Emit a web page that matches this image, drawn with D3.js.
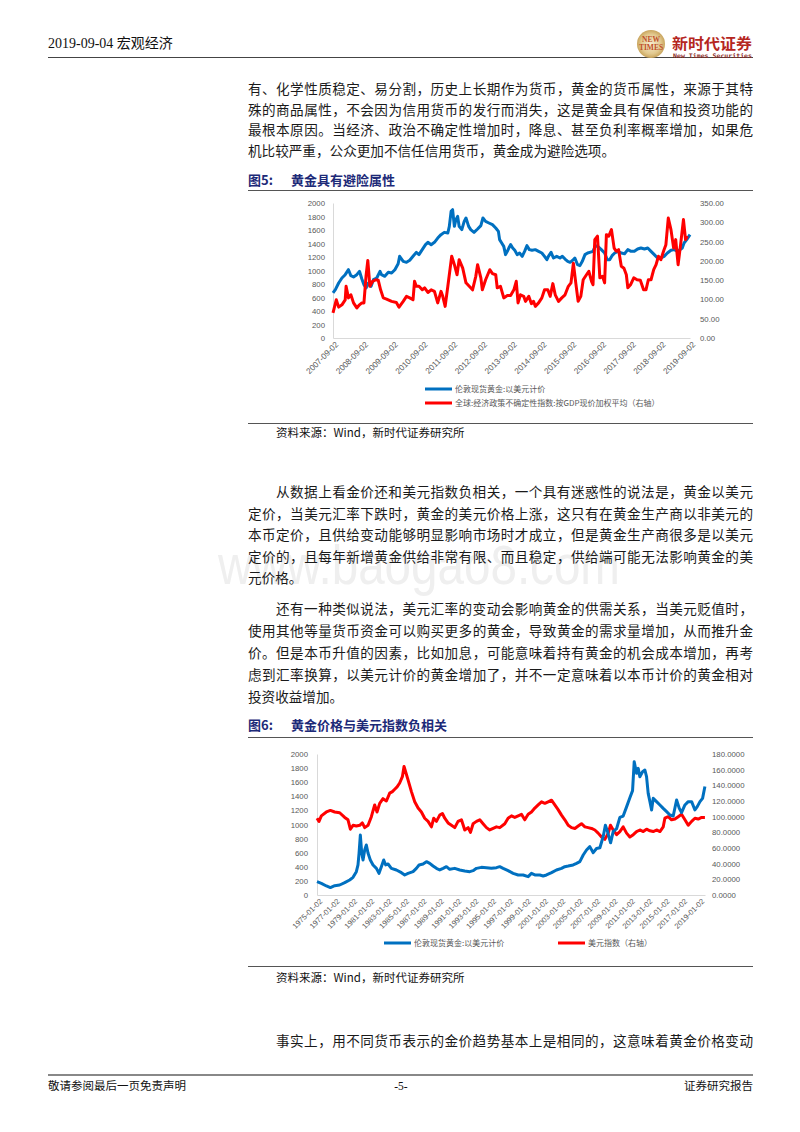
<!DOCTYPE html>
<html><head><meta charset="utf-8">
<script src="https://cdn.jsdelivr.net/npm/d3@7"></script>
<style>
html,body{margin:0;padding:0;background:#fff;}
svg{display:block;}
</style></head>
<body>
<svg id="page" width="800" height="1132"></svg>
<script>
// ---------------- DATA ----------------
// Figure 5: gold (left axis) and global EPU (right axis), decimal years
const fig5GoldYears = [2007.67,2007.75,2007.86,2007.97,2008.08,2008.19,2008.27,2008.36,2008.47,2008.56,2008.64,2008.71,2008.78,2008.86,2008.95,2009.03,2009.14,2009.25,2009.30,2009.41,2009.53,2009.64,2009.75,2009.86,2009.91,2010.03,2010.14,2010.25,2010.36,2010.47,2010.56,2010.67,2010.78,2010.86,2010.97,2011.08,2011.19,2011.30,2011.41,2011.53,2011.58,2011.64,2011.69,2011.75,2011.80,2011.86,2011.91,2012.00,2012.08,2012.14,2012.23,2012.30,2012.41,2012.53,2012.64,2012.71,2012.80,2012.91,2013.03,2013.14,2013.23,2013.27,2013.34,2013.41,2013.47,2013.53,2013.58,2013.64,2013.71,2013.78,2013.86,2013.94,2014.03,2014.11,2014.19,2014.27,2014.36,2014.47,2014.58,2014.69,2014.78,2014.86,2014.91,2015.00,2015.08,2015.19,2015.30,2015.38,2015.47,2015.56,2015.64,2015.75,2015.80,2015.89,2015.97,2016.05,2016.14,2016.23,2016.30,2016.41,2016.49,2016.58,2016.69,2016.80,2016.89,2016.97,2017.05,2017.14,2017.25,2017.36,2017.47,2017.58,2017.69,2017.80,2017.91,2018.02,2018.14,2018.25,2018.36,2018.47,2018.58,2018.69,2018.80,2018.91,2019.03,2019.14,2019.25,2019.34,2019.41,2019.47,2019.56,2019.67];
const fig5Gold = [667,716,815,889,938,1012,923,904,938,988,874,790,741,815,765,864,889,988,938,914,973,963,1012,1101,1210,1136,1121,1151,1210,1269,1235,1309,1383,1417,1383,1417,1481,1531,1565,1556,1654,1877,1901,1654,1753,1802,1654,1605,1728,1778,1654,1605,1565,1615,1664,1778,1728,1704,1679,1630,1580,1457,1407,1358,1235,1284,1333,1383,1333,1299,1235,1259,1210,1284,1368,1309,1299,1309,1284,1259,1210,1160,1210,1269,1185,1210,1185,1210,1170,1136,1121,1160,1185,1086,1072,1136,1235,1259,1269,1284,1368,1353,1309,1259,1160,1160,1220,1259,1284,1259,1249,1309,1284,1284,1318,1333,1318,1333,1284,1235,1185,1185,1210,1259,1299,1309,1284,1309,1333,1407,1457,1531];
const fig5EpuYears = [2007.67,2007.78,2007.86,2007.97,2008.08,2008.11,2008.19,2008.27,2008.36,2008.47,2008.56,2008.64,2008.71,2008.78,2008.84,2008.91,2009.00,2009.11,2009.19,2009.27,2009.36,2009.47,2009.64,2009.80,2009.89,2010.03,2010.14,2010.25,2010.36,2010.41,2010.47,2010.56,2010.67,2010.75,2010.86,2010.97,2011.08,2011.19,2011.30,2011.36,2011.44,2011.53,2011.66,2011.75,2011.84,2011.91,2012.03,2012.14,2012.25,2012.36,2012.47,2012.53,2012.64,2012.69,2012.80,2012.94,2013.03,2013.14,2013.19,2013.30,2013.41,2013.53,2013.64,2013.75,2013.83,2013.89,2013.97,2014.08,2014.14,2014.25,2014.34,2014.41,2014.47,2014.58,2014.69,2014.78,2014.89,2014.97,2015.06,2015.14,2015.25,2015.36,2015.47,2015.58,2015.67,2015.75,2015.83,2015.91,2016.00,2016.08,2016.19,2016.27,2016.36,2016.41,2016.47,2016.56,2016.64,2016.73,2016.80,2016.86,2016.94,2017.03,2017.12,2017.19,2017.27,2017.36,2017.45,2017.53,2017.58,2017.67,2017.78,2017.89,2018.00,2018.11,2018.19,2018.27,2018.36,2018.45,2018.53,2018.61,2018.69,2018.78,2018.86,2018.94,2019.03,2019.12,2019.19,2019.27,2019.36,2019.45,2019.52,2019.58];
const fig5Epu = [65,99,80,86,99,134,104,112,91,78,86,91,91,160,201,134,147,151,150,125,104,101,95,92,80,95,108,104,99,147,134,134,125,130,118,125,121,91,121,108,82,134,212,190,164,203,181,143,134,125,160,190,156,125,151,177,167,164,130,134,104,110,110,125,147,91,112,108,95,108,89,95,82,91,104,125,125,108,141,112,95,104,112,134,143,194,143,95,108,151,164,173,147,138,255,264,156,160,143,268,264,281,233,225,229,186,181,164,130,138,156,151,150,125,125,151,151,177,190,212,203,225,242,311,281,233,255,190,246,307,255,264];
const fig5LeftTicks = [0,200,400,600,800,1000,1200,1400,1600,1800,2000];
const fig5RightTicks = [0,50,100,150,200,250,300,350];
const fig5XTickYears = [2007.67,2008.67,2009.67,2010.67,2011.67,2012.67,2013.67,2014.67,2015.67,2016.67,2017.67,2018.67,2019.67];
const fig5XLabels = ["2007-09-02","2008-09-02","2009-09-02","2010-09-02","2011-09-02","2012-09-02","2013-09-02","2014-09-02","2015-09-02","2016-09-02","2017-09-02","2018-09-02","2019-09-02"];
const fig5Series = ["伦敦现货黄金:以美元计价","全球:经济政策不确定性指数:按GDP现价加权平均（右轴）"];

// Figure 6: gold (left axis) and US dollar index (right axis)
const fig6GoldYears = [1975.00,1975.50,1976.08,1976.54,1977.04,1977.61,1978.19,1978.76,1979.15,1979.53,1979.72,1979.84,1979.99,1980.15,1980.30,1980.49,1980.68,1980.88,1981.14,1981.45,1981.84,1982.14,1982.41,1982.68,1982.91,1983.18,1983.56,1984.14,1984.72,1985.10,1985.48,1986.06,1986.44,1986.75,1987.21,1987.60,1987.98,1988.36,1988.75,1989.13,1989.52,1989.90,1990.28,1990.86,1991.44,1992.01,1992.59,1992.97,1993.36,1993.93,1994.51,1995.08,1995.66,1996.04,1996.43,1997.00,1997.58,1998.16,1998.73,1999.31,1999.69,2000.08,2000.65,2001.04,2001.42,2002.00,2002.57,2003.15,2003.53,2003.92,2004.49,2004.88,2005.26,2005.65,2006.03,2006.41,2006.80,2007.18,2007.57,2007.95,2008.20,2008.45,2008.80,2009.10,2009.49,2009.87,2010.25,2010.64,2011.02,2011.33,2011.52,2011.79,2011.98,2012.17,2012.48,2012.75,2012.94,2013.13,2013.33,2013.52,2013.71,2014.09,2014.48,2014.86,2015.25,2015.63,2016.01,2016.40,2016.71,2016.97,2017.36,2017.74,2018.13,2018.51,2018.78,2019.09,2019.39,2019.66];
const fig6Gold = [189,165,128,105,132,142,175,213,251,331,426,591,851,591,496,638,709,591,496,426,378,307,402,496,426,440,378,355,317,284,307,331,378,426,440,473,449,411,378,355,378,402,364,378,355,340,331,345,378,392,388,378,388,402,378,345,307,284,284,260,307,284,284,270,284,317,355,378,402,411,426,449,473,567,638,686,600,660,670,830,990,900,740,898,940,1100,1120,1250,1380,1480,1891,1726,1797,1678,1749,1773,1678,1442,1324,1206,1371,1324,1277,1229,1182,1135,1120,1348,1229,1170,1277,1324,1324,1206,1253,1324,1371,1540];
const fig6UsdYears = [1975.00,1975.23,1975.50,1976.08,1976.54,1977.04,1977.61,1978.19,1978.57,1978.84,1979.15,1979.53,1979.92,1980.22,1980.49,1980.88,1981.26,1981.64,1981.91,1982.22,1982.60,1982.99,1983.37,1983.68,1983.95,1984.22,1984.52,1984.83,1985.02,1985.21,1985.48,1985.87,1986.25,1986.64,1987.02,1987.40,1987.79,1988.17,1988.44,1988.75,1989.13,1989.44,1989.71,1990.09,1990.48,1990.86,1991.24,1991.63,1992.01,1992.40,1992.67,1992.97,1993.36,1993.74,1994.12,1994.51,1994.89,1995.28,1995.66,1996.04,1996.62,1997.00,1997.39,1997.77,1998.16,1998.54,1998.92,1999.31,1999.69,2000.08,2000.46,2000.85,2001.23,2001.61,2002.00,2002.38,2002.76,2003.15,2003.53,2003.92,2004.30,2004.69,2005.07,2005.45,2005.84,2006.22,2006.61,2006.99,2007.37,2007.76,2008.14,2008.53,2008.79,2009.10,2009.49,2009.87,2010.25,2010.64,2011.02,2011.41,2011.79,2012.17,2012.56,2012.94,2013.33,2013.71,2014.09,2014.48,2014.86,2015.05,2015.44,2015.82,2016.21,2016.59,2016.97,2017.36,2017.74,2018.13,2018.51,2018.89,2019.28,2019.66];
const fig6Usd = [98,94,101,106,108,106,105,99,96,84,89,88,89,92,86,89,100,115,106,117,123,120,130,132,135,138,143,151,164,157,147,132,119,111,106,98,94,87,98,94,102,104,98,92,89,86,94,96,83,86,80,91,94,96,91,86,83,85,87,86,91,98,101,99,101,103,96,103,106,111,115,119,117,119,121,115,109,102,96,89,86,85,88,91,87,86,85,83,79,74,71,79,89,83,77,81,87,79,74,77,81,83,81,84,82,81,83,81,87,98,100,96,97,100,103,96,89,94,98,97,99,99];
const fig6LeftTicks = [0,200,400,600,800,1000,1200,1400,1600,1800,2000];
const fig6RightTicks = [0,20,40,60,80,100,120,140,160,180];
const fig6XTickYears = d3.range(1975, 2020, 2);
const fig6XLabels = ["1975-01-02","1977-01-02","1979-01-02","1981-01-02","1983-01-02","1985-01-02","1987-01-02","1989-01-02","1991-01-02","1993-01-02","1995-01-02","1997-01-02","1999-01-02","2001-01-02","2003-01-02","2005-01-02","2007-01-02","2009-01-02","2011-01-02","2013-01-02","2015-01-02","2017-01-02","2019-01-02"];
const fig6Series = ["伦敦现货黄金:以美元计价","美元指数（右轴）"];

// Page text
const para1 = ["有、化学性质稳定、易分割，历史上长期作为货币，黄金的货币属性，来源于其特","殊的商品属性，不会因为信用货币的发行而消失，这是黄金具有保值和投资功能的","最根本原因。当经济、政治不确定性增加时，降息、甚至负利率概率增加，如果危","机比较严重，公众更加不信任信用货币，黄金成为避险选项。"];
const para2 = ["从数据上看金价还和美元指数负相关，一个具有迷惑性的说法是，黄金以美元","定价，当美元汇率下跌时，黄金的美元价格上涨，这只有在黄金生产商以非美元的","本币定价，且供给变动能够明显影响市场时才成立，但是黄金生产商很多是以美元","定价的，且每年新增黄金供给非常有限、而且稳定，供给端可能无法影响黄金的美","元价格。"];
const para3 = ["还有一种类似说法，美元汇率的变动会影响黄金的供需关系，当美元贬值时，","使用其他等量货币资金可以购买更多的黄金，导致黄金的需求量增加，从而推升金","价。但是本币升值的因素，比如加息，可能意味着持有黄金的机会成本增加，再考","虑到汇率换算，以美元计价的黄金增加了，并不一定意味着以本币计价的黄金相对","投资收益增加。"];
const para4 = ["事实上，用不同货币表示的金价趋势基本上是相同的，这意味着黄金价格变动"];

// ---------------- DRAW ----------------
const svg = d3.select("#page");
svg.append("rect").attr("width",800).attr("height",1132).attr("fill","#fff");
const CJK = "'Noto Sans CJK SC','Noto Sans',sans-serif";
const SERIF = "'Liberation Serif','Noto Sans CJK SC',serif";
const NUM = "'Liberation Sans','DejaVu Sans',sans-serif";

// watermark (behind text)
svg.append("text").attr("x",218).attr("y",584).attr("font-family",NUM).attr("font-size",56)
  .attr("fill","#efefef").attr("textLength",402).attr("lengthAdjust","spacingAndGlyphs").text("www.baogao8.com");

// header
svg.append("text").attr("x",48).attr("y",48).attr("font-family",SERIF).attr("font-size",14).attr("fill","#111").text("2019-09-04 宏观经济");
svg.append("line").attr("x1",48).attr("x2",753).attr("y1",57.5).attr("y2",57.5).attr("stroke","#444").attr("stroke-width",1);
// logo
const defs = svg.append("defs");
const rg = defs.append("radialGradient").attr("id","logoGrad");
rg.append("stop").attr("offset","0%").attr("stop-color","#f6ecd0");
rg.append("stop").attr("offset","70%").attr("stop-color","#e2c98f");
rg.append("stop").attr("offset","100%").attr("stop-color","#c9a55e");
svg.append("circle").attr("cx",651).attr("cy",44).attr("r",14).attr("fill","url(#logoGrad)");
svg.append("text").attr("x",651).attr("y",42).attr("text-anchor","middle").attr("font-family",SERIF).attr("font-size",7.5).attr("font-weight","bold").attr("fill","#c0502a").text("NEW");
svg.append("text").attr("x",651).attr("y",50).attr("text-anchor","middle").attr("font-family",SERIF).attr("font-size",7.5).attr("font-weight","bold").attr("fill","#c0502a").text("TIMES");
svg.append("text").attr("x",672).attr("y",49).attr("font-family",CJK).attr("font-size",15).attr("font-weight","bold").attr("fill","#b5261e").attr("textLength",80).attr("lengthAdjust","spacingAndGlyphs").text("新时代证券");
svg.append("text").attr("x",673).attr("y",58).attr("font-family","'DejaVu Sans Mono',monospace").attr("font-size",6.3).attr("font-weight","bold").attr("fill","#8a2a1e").attr("textLength",79).attr("lengthAdjust","spacingAndGlyphs").text("New Times Securities");

// paragraphs
function drawPara(lines, y0, lh, indentFirst){
  lines.forEach((t,i)=>{
    const x0 = (i===0 && indentFirst) ? 276 : 248;
    const last = i===lines.length-1 && lines.length>1;
    const txt = svg.append("text").attr("x",x0).attr("y",y0+i*lh).attr("font-family",CJK).attr("font-size",13.6).attr("fill","#1a1a1a").text(t);
    if(!last) txt.attr("textLength",753-x0).attr("lengthAdjust","spacing");
  });
}
drawPara(para1, 94, 20.5, false);
drawPara(para2, 497, 21.5, true);
drawPara(para3, 614, 22, true);
svg.append("text").attr("x",276).attr("y",1046).attr("font-family",CJK).attr("font-size",13.6).attr("fill","#1a1a1a").attr("textLength",477).attr("lengthAdjust","spacing").text(para4[0]);

// figure titles
function figTitle(num, title, y, ruleY){
  const g = svg.append("g");
  g.append("text").attr("x",248).attr("y",y).attr("font-family",CJK).attr("font-size",13).attr("font-weight","bold").attr("fill","#1d2a78").text(num);
  g.append("text").attr("x",291).attr("y",y).attr("font-family",CJK).attr("font-size",13).attr("font-weight","bold").attr("fill","#1d2a78").text(title);
  g.append("line").attr("x1",248).attr("x2",753).attr("y1",ruleY).attr("y2",ruleY).attr("stroke","#555").attr("stroke-width",1);
}
figTitle("图5:","黄金具有避险属性",185,190.5);
figTitle("图6:","黄金价格与美元指数负相关",730,737.5);

function source(y, ruleY){
  svg.append("line").attr("x1",248).attr("x2",753).attr("y1",ruleY).attr("y2",ruleY).attr("stroke","#555").attr("stroke-width",1);
  svg.append("text").attr("x",276).attr("y",y).attr("font-family",CJK).attr("font-size",11.5).attr("fill","#111").text("资料来源：Wind，新时代证券研究所");
}
source(437, 423.5);
source(982, 966.5);

// chart drawer
function drawChart(cfg){
  const g = svg.append("g");
  const x = d3.scaleLinear().domain(cfg.xDomain).range([cfg.left, cfg.right]);
  const yL = d3.scaleLinear().domain([0,2000]).range([cfg.bottom, cfg.top]);
  const yR = d3.scaleLinear().domain([0,cfg.rMax]).range([cfg.bottom, cfg.top]);
  // left axis
  const la = g.append("g").attr("transform",`translate(${cfg.left},0)`)
    .call(d3.axisLeft(yL).tickValues(cfg.leftTicks).tickSize(0).tickPadding(cfg.lPad).tickFormat(d3.format("d")));
  la.select(".domain").attr("stroke","#d9d9d9");
  la.selectAll("text").attr("font-family",NUM).attr("font-size",7.8).attr("fill","#595959");
  // right axis
  const ra = g.append("g").attr("transform",`translate(${cfg.right},0)`)
    .call(d3.axisRight(yR).tickValues(cfg.rightTicks).tickSize(0).tickPadding(cfg.rPad).tickFormat(d3.format(cfg.rFmt)));
  ra.select(".domain").remove();
  ra.selectAll("text").attr("font-family",NUM).attr("font-size",7.8).attr("fill","#595959");
  // bottom axis
  const ba = g.append("g").attr("transform",`translate(0,${cfg.bottom})`)
    .call(d3.axisBottom(x).tickValues(cfg.xTicks).tickSize(0).tickFormat((d,i)=>cfg.xLabels[i]));
  ba.select(".domain").attr("stroke","#d9d9d9");
  ba.selectAll("text").attr("font-family",NUM).attr("font-size",cfg.xFont).attr("fill","#595959")
    .attr("x",-1).attr("y",6).attr("dy","0.35em").attr("text-anchor","end").attr("transform","rotate(-45)");
  // lines
  const lineL = d3.line().x((d,i)=>x(cfg.lYears[i])).y(d=>yL(d));
  const lineR = d3.line().x((d,i)=>x(cfg.rYears[i])).y(d=>yR(d));
  const paths = [
    ()=>g.append("path").datum(cfg.lVals).attr("d",lineL).attr("fill","none").attr("stroke","#0070c0").attr("stroke-width",cfg.sw).attr("stroke-linejoin","round"),
    ()=>g.append("path").datum(cfg.rVals).attr("d",lineR).attr("fill","none").attr("stroke","#ff0000").attr("stroke-width",cfg.sw).attr("stroke-linejoin","round")
  ];
  cfg.order.forEach(k=>paths[k]());
  // legend
  cfg.legend.forEach((L,i)=>{
    g.append("line").attr("x1",L.x).attr("x2",L.x+27).attr("y1",L.y).attr("y2",L.y).attr("stroke",i===0?"#0070c0":"#ff0000").attr("stroke-width",3);
    g.append("text").attr("x",L.x+30).attr("y",L.y+3).attr("font-family",CJK).attr("font-size",8).attr("fill","#595959").text(cfg.series[i]);
  });
}

drawChart({
  xDomain:[2007.67,2019.67], left:333, right:690, top:203, bottom:338, rMax:350,
  leftTicks:fig5LeftTicks, rightTicks:fig5RightTicks, rFmt:".2f", lPad:8, rPad:10,
  xTicks:fig5XTickYears, xLabels:fig5XLabels, xFont:8.2,
  lYears:fig5GoldYears, lVals:fig5Gold, rYears:fig5EpuYears, rVals:fig5Epu, sw:3, order:[0,1],
  series:fig5Series, legend:[{x:425,y:389},{x:425,y:403}]
});
drawChart({
  xDomain:[1975,2019.67], left:317, right:705, top:754, bottom:895, rMax:180,
  leftTicks:fig6LeftTicks, rightTicks:fig6RightTicks, rFmt:".4f", lPad:9, rPad:7,
  xTicks:fig6XTickYears, xLabels:fig6XLabels, xFont:7.6,
  lYears:fig6GoldYears, lVals:fig6Gold, rYears:fig6UsdYears, rVals:fig6Usd, sw:3, order:[1,0],
  series:fig6Series, legend:[{x:384,y:943},{x:558,y:943}]
});

// footer
svg.append("line").attr("x1",48).attr("x2",753).attr("y1",1075).attr("y2",1075).attr("stroke","#888").attr("stroke-width",2);
svg.append("text").attr("x",48).attr("y",1090).attr("font-family",CJK).attr("font-size",11.5).attr("fill","#111").text("敬请参阅最后一页免责声明");
svg.append("text").attr("x",401).attr("y",1090).attr("text-anchor","middle").attr("font-family",SERIF).attr("font-size",11.5).attr("fill","#111").text("-5-");
svg.append("text").attr("x",753).attr("y",1090).attr("text-anchor","end").attr("font-family",CJK).attr("font-size",11.5).attr("fill","#111").text("证券研究报告");
</script>
</body></html>
